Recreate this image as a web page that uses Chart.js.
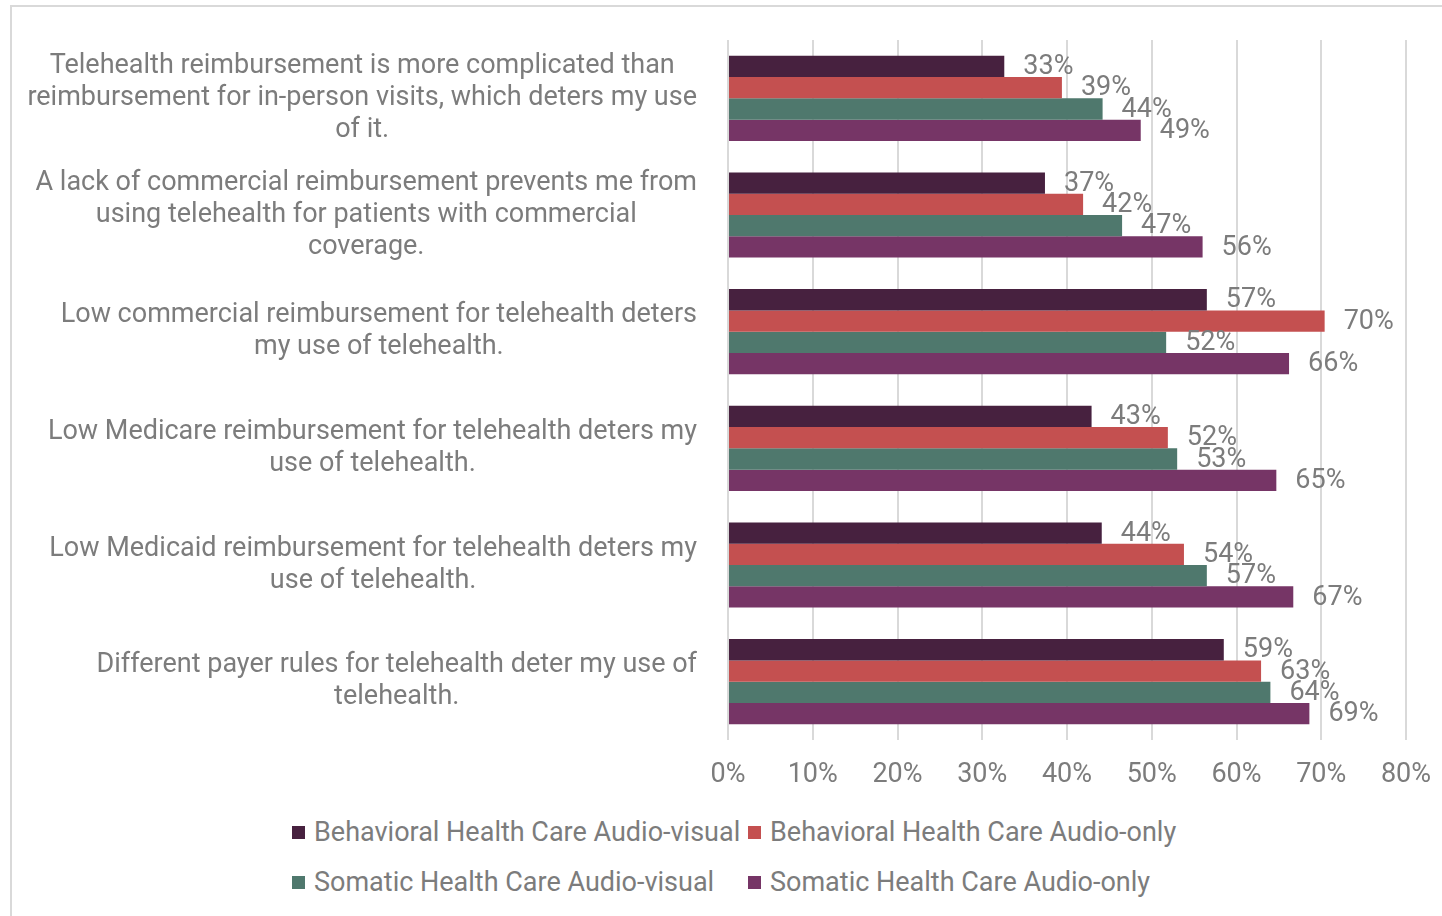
<!DOCTYPE html>
<html lang="en">
<head>
  <meta charset="UTF-8">
  <title>Telehealth reimbursement barriers</title>
  <script src="https://cdn.jsdelivr.net/npm/chart.js"></script>
  <style>
    body { margin: 0; background: #fff; font-family: Roboto, "Noto Sans", sans-serif; overflow: hidden; }
    .frame { position: absolute; left: 10px; top: 5px; width: 1440px; height: 920px; border: 2px solid #d9d9d9; box-sizing: border-box; }
    .chart-box { position: absolute; left: 0; top: 0; width: 1442px; height: 800px; }
    .legend { position: absolute; left: 292px; top: 815px; display: grid; grid-template-columns: 456px 456px; row-gap: 16px; }
    .legend span { display: flex; align-items: center; font-size: 27px; color: #7c7c7c; height: 34px; white-space: nowrap; }
    .legend i { display: inline-block; width: 13px; height: 13px; margin-right: 9px; }
  </style>
</head>
<body>
  <div class="frame"></div>
  <div class="chart-box"><canvas id="barChart"></canvas></div>
  <div class="legend" id="legend"></div>
  <script>
    // categories (top to bottom), each split into the lines shown on the axis
    const categories = [
      ['Telehealth reimbursement is more complicated than', 'reimbursement for in-person visits, which deters my use', 'of it.'],
      ['A lack of commercial reimbursement prevents me from', 'using telehealth for patients with commercial', 'coverage.'],
      ['Low commercial reimbursement for telehealth deters', 'my use of telehealth.'],
      ['Low Medicare reimbursement for telehealth deters my', 'use of telehealth.'],
      ['Low Medicaid reimbursement for telehealth deters my', 'use of telehealth.'],
      ['Different payer rules for telehealth deter my use of', 'telehealth.']
    ];
    const seriesNames = [
      'Behavioral Health Care Audio-visual',
      'Behavioral Health Care Audio-only',
      'Somatic Health Care Audio-visual',
      'Somatic Health Care Audio-only'
    ];
    const bhAudioVisual = [32.6, 37.4, 56.5, 42.9, 44.1, 58.5];
    const bhAudioOnly   = [39.4, 41.9, 70.4, 51.9, 53.8, 62.9];
    const shAudioVisual = [44.2, 46.5, 51.7, 53.0, 56.5, 64.0];
    const shAudioOnly   = [48.7, 56.0, 66.2, 64.7, 66.7, 68.6];
    const xTicks = [0, 10, 20, 30, 40, 50, 60, 70, 80];

    const colors = ['#47213f', '#c45050', '#4f786d', '#763566'];
    const textGray = '#7c7c7c';
    const labelFont = '400 27px Roboto';

    // legend in html, two per row like the original
    const legendEl = document.getElementById('legend');
    seriesNames.forEach((name, i) => {
      const s = document.createElement('span');
      s.innerHTML = '<i style="background:' + colors[i] + '"></i>' + name;
      legendEl.appendChild(s);
    });

    // value labels to the right of each bar
    const valueLabels = {
      id: 'valueLabels',
      afterDatasetsDraw(chart) {
        const ctx = chart.ctx;
        ctx.save();
        ctx.font = labelFont;
        ctx.fillStyle = textGray;
        ctx.textAlign = 'left';
        ctx.textBaseline = 'middle';
        chart.data.datasets.forEach((ds, di) => {
          chart.getDatasetMeta(di).data.forEach((bar, i) => {
            ctx.fillText(Math.round(ds.data[i]) + '%', bar.x + 19, bar.y + 1);
          });
        });
        ctx.restore();
      }
    };

    // category text: block right-aligned to the axis, lines centred inside the block
    const categoryText = {
      id: 'categoryText',
      afterDraw(chart) {
        const ctx = chart.ctx;
        const y = chart.scales.y;
        const right = chart.chartArea.left - 31;
        const lh = 32;
        ctx.save();
        ctx.font = labelFont;
        ctx.fillStyle = textGray;
        ctx.textAlign = 'center';
        ctx.textBaseline = 'middle';
        categories.forEach((lines, i) => {
          const w = Math.max(...lines.map(l => ctx.measureText(l).width));
          const cx = right - w / 2;
          const cy = y.getPixelForValue(i);
          const top = cy - (lines.length - 1) * lh / 2;
          lines.forEach((l, k) => ctx.fillText(l, cx, top + k * lh));
        });
        ctx.restore();
      }
    };

    const allSeries = [bhAudioVisual, bhAudioOnly, shAudioVisual, shAudioOnly];
    const ctx = document.getElementById('barChart').getContext('2d');
    new Chart(ctx, {
      type: 'bar',
      data: {
        labels: categories,
        datasets: allSeries.map((d, i) => ({
          label: seriesNames[i],
          data: d,
          backgroundColor: colors[i],
          borderWidth: 0,
          categoryPercentage: 0.73,
          barPercentage: 1.0
        }))
      },
      options: {
        indexAxis: 'y',
        responsive: true,
        maintainAspectRatio: false,
        animation: false,
        layout: { autoPadding: false, padding: { top: 40, right: 36, left: 0, bottom: 0 } },
        plugins: {
          legend: { display: false },
          tooltip: { enabled: false }
        },
        scales: {
          x: {
            min: 0,
            max: 80,
            afterBuildTicks(axis) { axis.ticks = xTicks.map(v => ({ value: v })); },
            afterFit(axis) { axis.height = 60; axis.paddingLeft = 0; axis.paddingRight = 0; },
            ticks: {
              callback: v => v + '%',
              color: textGray,
              font: { family: 'Roboto', size: 27, weight: '400' },
              padding: 19,
              maxRotation: 0
            },
            grid: { color: '#d9d9d9', lineWidth: 2, drawTicks: false },
            border: { display: false }
          },
          y: {
            afterFit(axis) { axis.width = 728; },
            ticks: { display: false },
            grid: { display: false },
            border: { display: false }
          }
        }
      },
      plugins: [valueLabels, categoryText]
    });
  </script>
</body>
</html>
